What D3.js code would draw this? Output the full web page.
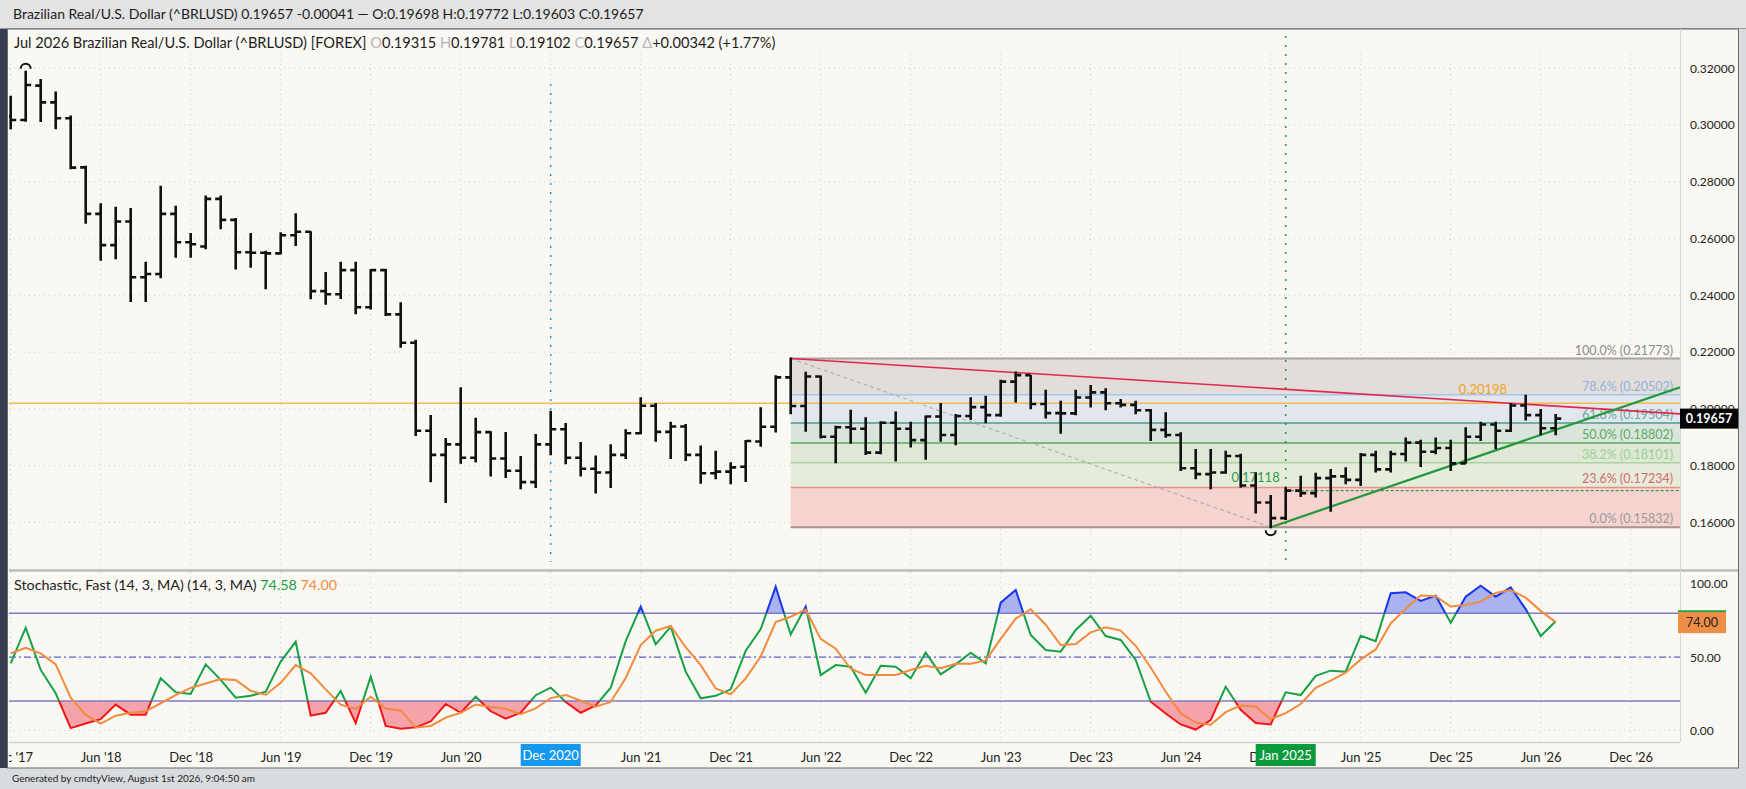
<!DOCTYPE html>
<html>
<head>
<meta charset="utf-8">
<script src="https://cdn.jsdelivr.net/npm/d3@7"></script>
<style>
  body { margin: 0; background: #d9dcdf; }
  svg { display: block; font-family: Lato, "Open Sans", sans-serif; }
</style>
</head>
<body>
<svg id="chart" width="1746" height="789"></svg>
<script>
// monthly bars, Dec 2017 .. Jul 2026
const months = [
  "2017-12",
  "2018-01","2018-02","2018-03","2018-04","2018-05","2018-06","2018-07","2018-08","2018-09","2018-10","2018-11","2018-12",
  "2019-01","2019-02","2019-03","2019-04","2019-05","2019-06","2019-07","2019-08","2019-09","2019-10","2019-11","2019-12",
  "2020-01","2020-02","2020-03","2020-04","2020-05","2020-06","2020-07","2020-08","2020-09","2020-10","2020-11","2020-12",
  "2021-01","2021-02","2021-03","2021-04","2021-05","2021-06","2021-07","2021-08","2021-09","2021-10","2021-11","2021-12",
  "2022-01","2022-02","2022-03","2022-04","2022-05","2022-06","2022-07","2022-08","2022-09","2022-10","2022-11","2022-12",
  "2023-01","2023-02","2023-03","2023-04","2023-05","2023-06","2023-07","2023-08","2023-09","2023-10","2023-11","2023-12",
  "2024-01","2024-02","2024-03","2024-04","2024-05","2024-06","2024-07","2024-08","2024-09","2024-10","2024-11","2024-12",
  "2025-01","2025-02","2025-03","2025-04","2025-05","2025-06","2025-07","2025-08","2025-09","2025-10","2025-11","2025-12",
  "2026-01","2026-02","2026-03","2026-04","2026-05","2026-06","2026-07"
];

const open = [
  0.3030,0.3018,0.3139,0.3080,0.3024,0.2851,0.2687,0.2577,0.2660,0.2464,0.2475,0.2687,
  0.2587,0.2572,0.2740,0.2666,0.2552,0.2550,0.2548,0.2612,0.2624,0.2415,0.2404,0.2489,
  0.2358,0.2489,0.2333,0.2233,0.1923,0.1838,0.1875,0.1828,0.1918,0.1825,0.1782,0.1742,
  0.1875,0.1928,0.1828,0.1789,0.1776,0.1838,0.1914,0.2011,0.1919,0.1938,0.1838,0.1773,
  0.1779,0.1796,0.1885,0.1937,0.2111,0.2010,0.2114,0.1902,0.1935,0.1930,0.1846,0.1951,
  0.1930,0.1890,0.1973,0.1908,0.1975,0.2006,0.1978,0.2096,0.2119,0.2017,0.1985,0.1984,
  0.2040,0.2058,0.2020,0.2014,0.1995,0.1926,0.1908,0.1791,0.1770,0.1776,0.1834,0.1730,
  0.1670,0.1615,0.1712,0.1703,0.1756,0.1762,0.1750,0.1838,0.1787,0.1841,0.1881,0.1849,
  0.1862,0.1808,0.1902,0.1945,0.1923,0.2012,0.1978,0.19315
];
const high = [
  0.3100,0.3188,0.3159,0.3115,0.3030,0.2853,0.2721,0.2709,0.2704,0.2515,0.2783,0.2712,
  0.2616,0.2748,0.2748,0.2669,0.2616,0.2554,0.2619,0.2686,0.2622,0.2479,0.2515,0.2515,
  0.2489,0.2489,0.2372,0.2240,0.1975,0.1894,0.2073,0.1965,0.1918,0.1915,0.1830,0.1908,
  0.1990,0.1947,0.1880,0.1832,0.1872,0.1925,0.2037,0.2017,0.1951,0.1943,0.1867,0.1849,
  0.1808,0.1887,0.2002,0.2115,0.21773,0.2127,0.2114,0.1937,0.1993,0.1967,0.1953,0.1987,
  0.1951,0.1973,0.2017,0.1978,0.2037,0.2043,0.2099,0.2128,0.2116,0.2064,0.2025,0.2064,
  0.2081,0.2069,0.2031,0.2025,0.1996,0.1985,0.1914,0.1855,0.1855,0.1849,0.1838,0.1772,
  0.1693,0.1720,0.1761,0.1771,0.1785,0.1791,0.1841,0.1849,0.1849,0.1896,0.1888,0.1896,
  0.1888,0.1932,0.1951,0.1951,0.2017,0.2046,0.1996,0.19781
];
const low = [
  0.2989,0.3015,0.3014,0.2989,0.2848,0.2656,0.2525,0.2531,0.2380,0.2380,0.2464,0.2536,
  0.2536,0.2566,0.2636,0.2495,0.2501,0.2425,0.2548,0.2577,0.2390,0.2370,0.2391,0.2337,
  0.2354,0.2331,0.2219,0.1908,0.1745,0.1672,0.1810,0.1815,0.1765,0.1760,0.1720,0.1725,
  0.1840,0.1808,0.1765,0.1705,0.1725,0.1827,0.1914,0.1888,0.1827,0.1820,0.1740,0.1756,
  0.1738,0.1746,0.1870,0.1920,0.1985,0.1923,0.1899,0.1812,0.1881,0.1841,0.1844,0.1818,
  0.1867,0.1824,0.1888,0.1875,0.1964,0.1953,0.1976,0.2026,0.2002,0.1970,0.1916,0.1981,
  0.2008,0.1999,0.2008,0.1985,0.1890,0.1902,0.1785,0.1756,0.1720,0.1775,0.1726,0.1635,
  0.15832,0.1612,0.1693,0.1691,0.1641,0.1738,0.1732,0.1779,0.1779,0.1818,0.1799,0.1844,
  0.1785,0.1810,0.1890,0.1861,0.1922,0.1963,0.1911,0.19102
];
const close = [
  0.3018,0.3141,0.3080,0.3024,0.2850,0.2687,0.2577,0.2660,0.2464,0.2475,0.2687,0.2587,
  0.2580,0.2740,0.2666,0.2552,0.2550,0.2548,0.2612,0.2624,0.2415,0.2404,0.2489,0.2358,
  0.2489,0.2333,0.2233,0.1923,0.1838,0.1875,0.1828,0.1918,0.1825,0.1782,0.1742,0.1875,
  0.1928,0.1828,0.1789,0.1776,0.1838,0.1914,0.2011,0.1919,0.1938,0.1838,0.1773,0.1779,
  0.1794,0.1887,0.1937,0.2111,0.2010,0.2114,0.1902,0.1935,0.1930,0.1846,0.1951,0.1930,
  0.1890,0.1973,0.1908,0.1975,0.2006,0.1978,0.2096,0.2119,0.2017,0.1985,0.1984,0.2040,
  0.2058,0.2020,0.2014,0.1995,0.1926,0.1908,0.1791,0.1770,0.1776,0.1834,0.1730,0.1670,
  0.1615,0.17118,0.1703,0.1756,0.1762,0.1750,0.1838,0.1787,0.1841,0.1881,0.1849,0.1862,
  0.1808,0.1902,0.1945,0.1923,0.2012,0.1978,0.19315,0.19657
];

// stochastic fast (14,3,MA)
const stochK = [
  45.8,70.2,41.3,25.3,1.5,4.6,7.6,17.6,10.7,10.7,35.6,26,
  24.8,45.1,34.5,22.3,23.6,26.4,47,60.6,10,12,26.9,5,
  36.7,3,1,2,6,18,12,23,13,8,12,24,
  29.2,19.4,12,17,29.1,61,84.6,58.8,70.9,40.1,21.9,23.6,
  28,54.4,69.2,98.2,65.6,84.6,37.8,44.6,43.5,25.7,44.2,43.5,
  35.6,53.1,38.3,45.1,53.1,45.8,87.3,96,65.2,54.9,53.8,68.6,
  78.4,64.5,61.8,48.1,19.6,11.5,4,0.5,7,29.8,14,5,
  4,26,24.1,37.3,40.8,40.1,64.7,61,93.7,94.4,88.5,92.1,
  73.6,91.4,98.9,91.4,97.8,82.9,64.5,74.58
];
const stochD = [
  52.6,56.5,52.6,45.1,22.3,10.5,4.6,10,12,13,18.5,24.1,
  29,32,35,34.4,27,24.3,32.5,44.6,39,28,17.5,14.6,
  22.9,14.9,13.6,2,3,8.7,12,17.7,16,14.7,11,15,
  22,24.2,20.2,16.1,19.4,35.7,58.3,68.1,71.4,56.8,44.6,28.6,
  24.6,35.5,50.5,74,77.7,82.5,62.5,55.8,42.1,37.9,37.8,37.8,
  41.2,44.1,42.4,45.5,45.5,47.8,62.5,76.4,82.8,72.2,58.3,59,
  67,70.4,68.2,57.8,43,26.4,11.7,5.3,3.8,12.4,16.9,16.3,
  7.7,11.7,18,29.1,34,39.4,48.5,55.3,73.1,83.1,92.2,91.7,
  84.7,85.7,88,93.9,96,90.7,81.7,74.00
];

const priceTicks = [0.16, 0.18, 0.20, 0.22, 0.24, 0.26, 0.28, 0.30, 0.32];
const stochTicks = [0, 50, 100];
const tickMonths = ["2017-12","2018-06","2018-12","2019-06","2019-12","2020-06","2020-12","2021-06","2021-12",
  "2022-06","2022-12","2023-06","2023-12","2024-06","2024-12","2025-06","2025-12","2026-06","2026-12"];
const tickLabels = ["Dec '17","Jun '18","Dec '18","Jun '19","Dec '19","Jun '20","Dec '20","Jun '21","Dec '21",
  "Jun '22","Dec '22","Jun '23","Dec '23","Jun '24","Dec '24","Jun '25","Dec '25","Jun '26","Dec '26"];

// fibonacci retracement Apr 2022 high -> Dec 2024 low
const fibLevels = ["100.0%", "78.6%", "61.8%", "50.0%", "38.2%", "23.6%", "0.0%"];
const fibPrices = [0.21773, 0.20502, 0.19504, 0.18802, 0.18101, 0.17234, 0.15832];
const fibStart = "2022-04";

const hLinePrice = 0.20198;
const closeLevel = { month: "2025-01", price: 0.17118 };
const resistLine = [["2022-04", 0.21773], ["2023-07", 0.2128]];
const supportLine = [["2024-12", 0.15832], ["2026-04", 0.1872]];
const swingLine = [["2022-04", 0.21773], ["2024-12", 0.15832]];
const markerMonths = { blue: "2020-12", green: "2025-01" };
const lastPrice = 0.19657;

// ---------------------------------------------------------------
const W = 1746, H = 789;
const plotL = 9, plotR = 1680;
const priceTop = 29, priceBot = 570, stochTop = 572, stochBot = 742, axisBot = 768;

const mi = s => { const [yy, mm] = s.split("-").map(Number); return (yy - 2017) * 12 + mm - 12; };

const x = d3.scaleLinear().domain([0, 1]).range([10.7, 25.7]);
const y = d3.scaleLinear().domain([0.16, 0.32]).range([522.4, 68.3]);
const ys = d3.scaleLinear().domain([0, 100]).range([730.3, 584.1]);

const svg = d3.select("#chart");
const defs = svg.append("defs");
function clip(id, x0, y0, x1, y1) {
  defs.append("clipPath").attr("id", id).append("rect")
    .attr("x", x0).attr("y", y0).attr("width", x1 - x0).attr("height", y1 - y0);
}
clip("cPrice", plotL, priceTop, plotR, priceBot);
clip("cStoch", plotL, stochTop, plotR, stochBot);
clip("cOver", plotL, stochTop, plotR, ys(80));
clip("cMid", plotL, ys(80), plotR, ys(20));
clip("cUnder", plotL, ys(20), plotR, stochBot);
clip("cAxis", plotL, stochBot, plotR, axisBot);

// backgrounds
svg.append("rect").attr("width", W).attr("height", H).attr("fill", "#d9dcdf");
svg.append("rect").attr("width", W).attr("height", priceTop).attr("fill", "#e3e3e3");
svg.append("line").attr("x1", 0).attr("x2", W).attr("y1", priceTop - 0.5).attr("y2", priceTop - 0.5).attr("stroke", "#9a9a9a");
svg.append("rect").attr("x", 7.5).attr("y", priceTop).attr("width", 1731).attr("height", axisBot - priceTop)
  .attr("fill", "#faf8f2").attr("stroke", "#6a6a6a");
svg.append("rect").attr("x", 0).attr("y", priceTop).attr("width", 7).attr("height", axisBot - priceTop).attr("fill", "#333d4f");

// header
svg.append("text").attr("x", 13).attr("y", 19).style("font-size", "14px").attr("fill", "#1d1d1d")
  .text("Brazilian Real/U.S. Dollar (^BRLUSD) 0.19657 -0.00041 \u2014 O:0.19698 H:0.19772 L:0.19603 C:0.19657");

// grid
const grid = svg.append("g").attr("stroke", "#cfcfcf").attr("stroke-dasharray", "1,4");
tickMonths.forEach(m => {
  const gx = x(mi(m));
  if (gx < plotL || gx > plotR) return;
  grid.append("line").attr("x1", gx).attr("x2", gx).attr("y1", priceTop + 25).attr("y2", priceBot);
  grid.append("line").attr("x1", gx).attr("x2", gx).attr("y1", stochTop).attr("y2", stochBot);
});
priceTicks.forEach(p => {
  grid.append("line").attr("x1", plotL).attr("x2", plotR).attr("y1", y(p)).attr("y2", y(p));
});
grid.append("line").attr("x1", plotL).attr("x2", plotR).attr("y1", ys(100)).attr("y2", ys(100));
grid.append("line").attr("x1", plotL).attr("x2", plotR).attr("y1", ys(0)).attr("y2", ys(0));

// ---------------- price pane ----------------
const pg = svg.append("g").attr("clip-path", "url(#cPrice)");

// fib zones
const fx0 = x(mi(fibStart));
const zoneFill = ["#e2ddd8", "#e1e7ec", "#d9e5dc", "#dfe8d7", "#e6ecdc", "#f5d3ce"];
const lineCol = ["#a6a3a1", "#a9c5e8", "#4f9a88", "#5aa85a", "#a9d4a0", "#e98e8c", "#a99393"];
const textCol = ["#8c8c8c", "#8fb2de", "#6fa8a2", "#5caa5c", "#9dcf92", "#d46a6a", "#9a9a9a"];
zoneFill.forEach((c, i) => {
  pg.append("rect").attr("x", fx0).attr("y", y(fibPrices[i]))
    .attr("width", plotR - fx0).attr("height", y(fibPrices[i + 1]) - y(fibPrices[i])).attr("fill", c);
});
fibPrices.forEach((p, i) => {
  pg.append("line").attr("x1", fx0).attr("x2", plotR).attr("y1", y(p)).attr("y2", y(p))
    .attr("stroke", lineCol[i]).attr("stroke-width", i === 0 || i === 6 ? 2 : 1.5);
  pg.append("text").attr("x", 1673).attr("y", y(p) - 4).attr("text-anchor", "end")
    .style("font-size", "12.5px").attr("fill", textCol[i])
    .text(`${fibLevels[i]} (${p.toFixed(5)})`);
});

// swing dashed diagonal
pg.append("line")
  .attr("x1", x(mi(swingLine[0][0]))).attr("y1", y(swingLine[0][1]))
  .attr("x2", x(mi(swingLine[1][0]))).attr("y2", y(swingLine[1][1]))
  .attr("stroke", "#a8a8a8").attr("stroke-width", 1).attr("stroke-dasharray", "4,3");

// horizontal orange level
pg.append("line").attr("x1", plotL).attr("x2", plotR).attr("y1", y(hLinePrice)).attr("y2", y(hLinePrice))
  .attr("stroke", "#f6ba52").attr("stroke-width", 1.5);
pg.append("text").attr("x", 1483).attr("y", y(hLinePrice) - 9).attr("text-anchor", "middle")
  .style("font-size", "13px").attr("fill", "#f2a21e").text(hLinePrice.toFixed(5));

// close level dashed
const cx0 = x(mi(closeLevel.month));
pg.append("line").attr("x1", cx0).attr("x2", plotR).attr("y1", y(closeLevel.price)).attr("y2", y(closeLevel.price))
  .attr("stroke", "#3f9a4c").attr("stroke-width", 1.2).attr("stroke-dasharray", "3,2");
pg.append("text").attr("x", cx0 - 6).attr("y", y(closeLevel.price) - 9).attr("text-anchor", "end")
  .style("font-size", "13px").attr("fill", "#2e9e45").text(closeLevel.price.toFixed(5));

// vertical markers
pg.append("line").attr("x1", x(mi(markerMonths.blue))).attr("x2", x(mi(markerMonths.blue)))
  .attr("y1", 84).attr("y2", 562).attr("stroke", "#2196f3").attr("stroke-width", 1.5).attr("stroke-dasharray", "2,7");
pg.append("line").attr("x1", x(mi(markerMonths.green))).attr("x2", x(mi(markerMonths.green)))
  .attr("y1", 36).attr("y2", 562).attr("stroke", "#1a9a3a").attr("stroke-width", 1.5).attr("stroke-dasharray", "2,7");

// trend lines extended to plot edge
function extend(pts) {
  const i0 = mi(pts[0][0]), i1 = mi(pts[1][0]);
  const slope = (pts[1][1] - pts[0][1]) / (i1 - i0);
  const iEnd = x.invert(plotR);
  return [[x(i0), y(pts[0][1])], [plotR, y(pts[0][1] + slope * (iEnd - i0))]];
}
pg.append("path").attr("d", d3.line()(extend(resistLine)))
  .attr("stroke", "#e0274f").attr("stroke-width", 1.6).attr("fill", "none");
pg.append("path").attr("d", d3.line()(extend(supportLine)))
  .attr("stroke", "#22993a").attr("stroke-width", 2.2).attr("fill", "none");

// OHLC bars
const bars = months.map((m, i) => ({ i, o: open[i], h: high[i], l: low[i], c: close[i] }));
pg.selectAll("path.bar").data(bars).enter().append("path")
  .attr("class", "bar")
  .attr("d", d => {
    const bx = x(d.i);
    return `M${bx},${y(d.h) - 1}V${y(d.l) + 1}M${bx - 5.5},${y(d.o)}H${bx}M${bx},${y(d.c)}H${bx + 5.5}`;
  })
  .attr("stroke", "#111").attr("stroke-width", 2.6).attr("fill", "none");

// high / low markers
const iHigh = d3.maxIndex(high), iLow = d3.minIndex(low);
pg.append("path")
  .attr("d", `M${x(iHigh) - 5},${y(high[iHigh]) - 3}A5,5 0 0 1 ${x(iHigh) + 5},${y(high[iHigh]) - 3}`)
  .attr("stroke", "#111").attr("stroke-width", 2).attr("fill", "none");
pg.append("path")
  .attr("d", `M${x(iLow) - 5},${y(low[iLow]) + 3}A5,5 0 0 0 ${x(iLow) + 5},${y(low[iLow]) + 3}`)
  .attr("stroke", "#111").attr("stroke-width", 2).attr("fill", "none");

// legend line
const leg = svg.append("text").attr("x", 14).attr("y", 48).style("font-size", "14.6px").attr("fill", "#1d1d1d");
leg.append("tspan").text("Jul 2026 Brazilian Real/U.S. Dollar (^BRLUSD) [FOREX] ");
[["O", "0.19315"], ["H", "0.19781"], ["L", "0.19102"], ["C", "0.19657"]].forEach(([k, v]) => {
  leg.append("tspan").attr("fill", "#b5b5b5").text(" " + k);
  leg.append("tspan").text(v);
});
leg.append("tspan").attr("fill", "#b5b5b5").text(" \u0394");
leg.append("tspan").text("+0.00342 (+1.77%)");

// pane separator
svg.append("line").attr("x1", plotL).attr("x2", 1738).attr("y1", priceBot + 0.5).attr("y2", priceBot + 0.5)
  .attr("stroke", "#bdbdbd").attr("stroke-width", 2.5);
svg.append("line").attr("x1", plotR + 0.5).attr("x2", plotR + 0.5).attr("y1", priceTop).attr("y2", stochBot)
  .attr("stroke", "#d6d6d6");

// price axis
const yAxis = svg.append("g").attr("transform", `translate(${plotR},0)`)
  .call(d3.axisRight(y).tickValues(priceTicks).tickFormat(d3.format(".5f")).tickSize(0).tickPadding(10));
yAxis.select(".domain").remove();
yAxis.selectAll("text").style("font-size", "12px").style("font-family", "Lato, sans-serif").attr("fill", "#222");

// last price box
svg.append("rect").attr("x", plotR).attr("y", y(lastPrice) - 10).attr("width", 58).attr("height", 20).attr("fill", "#050505");
svg.append("text").attr("x", plotR + 29).attr("y", y(lastPrice) + 4.5).attr("text-anchor", "middle")
  .style("font-size", "12.5px").style("font-weight", "bold").attr("fill", "#fff").text(lastPrice.toFixed(5));

// ---------------- stochastic pane ----------------
const sg = svg.append("g").attr("clip-path", "url(#cStoch)");
const lineK = d3.line().x((d, i) => x(i)).y(d => ys(d));
const areaK = lev => d3.area().x((d, i) => x(i)).y0(ys(lev)).y1(d => ys(d));

sg.append("path").datum(stochK).attr("d", areaK(80)).attr("fill", "#aab3f0").attr("clip-path", "url(#cOver)");
sg.append("path").datum(stochK).attr("d", areaK(20)).attr("fill", "#f5a3ab").attr("clip-path", "url(#cUnder)");

[80, 20].forEach(v => {
  sg.append("line").attr("x1", plotL).attr("x2", plotR).attr("y1", ys(v)).attr("y2", ys(v))
    .attr("stroke", "#7c7cc6").attr("stroke-width", 1.5);
});
sg.append("line").attr("x1", plotL).attr("x2", plotR).attr("y1", ys(50)).attr("y2", ys(50))
  .attr("stroke", "#5d5dd0").attr("stroke-width", 1.2).attr("stroke-dasharray", "7,3,2,3");

sg.append("path").datum(stochK).attr("d", lineK).attr("fill", "none")
  .attr("stroke", "#16a048").attr("stroke-width", 2).attr("clip-path", "url(#cMid)");
sg.append("path").datum(stochK).attr("d", lineK).attr("fill", "none")
  .attr("stroke", "#1636f0").attr("stroke-width", 2).attr("clip-path", "url(#cOver)");
sg.append("path").datum(stochK).attr("d", lineK).attr("fill", "none")
  .attr("stroke", "#f51414").attr("stroke-width", 2).attr("clip-path", "url(#cUnder)");
sg.append("path").datum(stochD).attr("d", lineK).attr("fill", "none")
  .attr("stroke", "#f28b3e").attr("stroke-width", 2);

const kLast = stochK[stochK.length - 1], dLast = stochD[stochD.length - 1];
const sl = svg.append("text").attr("x", 14).attr("y", 590).style("font-size", "14.3px").attr("fill", "#1d1d1d");
sl.append("tspan").text("Stochastic, Fast (14, 3, MA)  (14, 3, MA) ");
sl.append("tspan").attr("fill", "#16a048").text(kLast.toFixed(2));
sl.append("tspan").attr("fill", "#f28b3e").text(" " + dLast.toFixed(2));

const sAxis = svg.append("g").attr("transform", `translate(${plotR},0)`)
  .call(d3.axisRight(ys).tickValues(stochTicks).tickFormat(d3.format(".2f")).tickSize(0).tickPadding(10));
sAxis.select(".domain").remove();
sAxis.selectAll("text").style("font-size", "12px").style("font-family", "Lato, sans-serif").attr("fill", "#222");

svg.append("rect").attr("x", plotR - 2).attr("y", ys(kLast) - 11).attr("width", 48).attr("height", 21).attr("fill", "#22a04a");
svg.append("rect").attr("x", plotR - 2).attr("y", ys(dLast) - 10).attr("width", 48).attr("height", 21).attr("fill", "#f08e48");
svg.append("text").attr("x", plotR + 22).attr("y", ys(dLast) + 5).attr("text-anchor", "middle")
  .style("font-size", "12.5px").attr("fill", "#222").text(dLast.toFixed(2));

// ---------------- time axis ----------------
svg.append("line").attr("x1", plotL).attr("x2", plotR).attr("y1", stochBot + 0.5).attr("y2", stochBot + 0.5)
  .attr("stroke", "#d0d0d0").attr("stroke-width", 1.5);
const boxed = [markerMonths.blue].map(mi);
const xAxis = svg.append("g").attr("clip-path", "url(#cAxis)")
  .append("g").attr("transform", `translate(0,${stochBot})`)
  .call(d3.axisBottom(x).tickValues(tickMonths.map(mi).filter(v => !boxed.includes(v)))
    .tickFormat(d => tickLabels[tickMonths.map(mi).indexOf(d)]).tickSize(0).tickPadding(11));
xAxis.select(".domain").remove();
xAxis.selectAll("text").style("font-size", "13px").style("font-family", "Lato, sans-serif").attr("fill", "#222");

function dateBox(m, label, color) {
  const bx = x(mi(m));
  svg.append("rect").attr("x", bx - 30).attr("y", stochBot + 2).attr("width", 60).attr("height", 22).attr("fill", color);
  svg.append("text").attr("x", bx).attr("y", stochBot + 18).attr("text-anchor", "middle")
    .style("font-size", "13px").attr("fill", "#fff").text(label);
}
dateBox(markerMonths.blue, "Dec 2020", "#1298ee");
dateBox(markerMonths.green, "Jan 2025", "#0b9a3c");

// footer
svg.append("text").attr("x", 12).attr("y", 782).style("font-size", "10px").attr("fill", "#222")
  .text("Generated by cmdtyView, August 1st 2026, 9:04:50 am");
</script>
</body>
</html>
